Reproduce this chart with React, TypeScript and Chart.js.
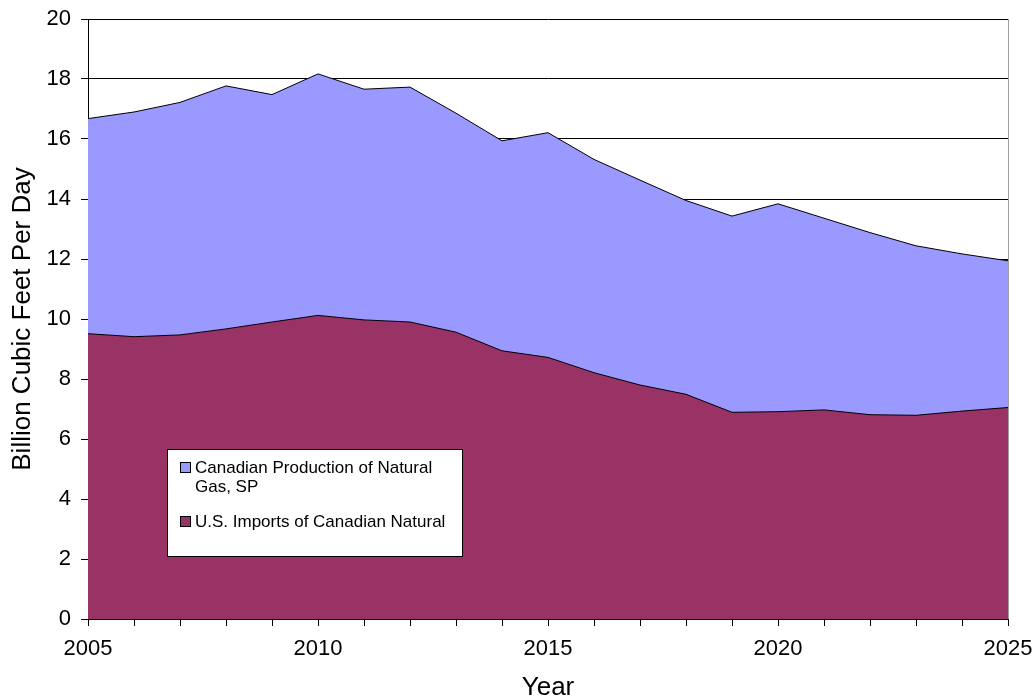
import React, { useEffect, useRef } from "react";
import { Chart, registerables } from "chart.js";

Chart.register(...registerables);

const years: number[] = [
  2005, 2006, 2007, 2008, 2009, 2010, 2011, 2012, 2013, 2014, 2015,
  2016, 2017, 2018, 2019, 2020, 2021, 2022, 2023, 2024, 2025,
];

const canadianProduction: number[] = [
  16.68, 16.9, 17.22, 17.77, 17.48, 18.17, 17.66, 17.73, 16.86, 15.94, 16.21,
  15.32, 14.63, 13.95, 13.43, 13.84, 13.36, 12.88, 12.44, 12.17, 11.94,
];

const usImports: number[] = [
  9.51, 9.41, 9.47, 9.67, 9.9, 10.12, 9.97, 9.9, 9.56, 8.94, 8.72,
  8.21, 7.8, 7.49, 6.89, 6.91, 6.97, 6.81, 6.79, 6.93, 7.05,
];

const legendLabels: string[][] = [
  ["Canadian Production of Natural", "Gas, SP"],
  ["U.S. Imports of Canadian Natural"],
];

const BLUE = "#9999FF";
const MAROON = "#993366";
const FONT = "'Liberation Sans', Arial, sans-serif";

const legendPlugin = {
  id: "boxLegend",
  afterDatasetsDraw(chart: any) {
    const ctx = chart.ctx as CanvasRenderingContext2D;
    ctx.save();
    // right frame of plot area
    const a = chart.chartArea;
    ctx.strokeStyle = "#a0a0a0";
    ctx.lineWidth = 1;
    ctx.beginPath();
    ctx.moveTo(Math.round(a.right) + 0.5, a.top);
    ctx.lineTo(Math.round(a.right) + 0.5, a.bottom);
    ctx.stroke();

    const bx = 167.5, by = 449.5, bw = 295, bh = 107;
    ctx.fillStyle = "#ffffff";
    ctx.fillRect(bx, by, bw, bh);
    ctx.strokeStyle = "#000000";
    ctx.strokeRect(bx, by, bw, bh);
    const colors = [BLUE, MAROON];
    const rowsY = [473, 527];
    ctx.font = `17px ${FONT}`;
    ctx.textBaseline = "alphabetic";
    legendLabels.forEach((lines, i) => {
      const baseY = rowsY[i];
      ctx.fillStyle = colors[i];
      ctx.fillRect(180, baseY - 11, 11, 11);
      ctx.strokeStyle = "#000";
      ctx.strokeRect(180.5, baseY - 10.5, 10, 10);
      ctx.fillStyle = "#000";
      lines.forEach((t, j) => {
        ctx.fillText(t, 195, baseY + j * 18.5);
      });
    });
    ctx.restore();
  },
};

export default function App() {
  const ref = useRef<HTMLCanvasElement | null>(null);

  useEffect(() => {
    if (!ref.current) return;
    const chart = new Chart(ref.current, {
      type: "line",
      data: {
        labels: years.map(String),
        datasets: [
          {
            label: "U.S. Imports of Canadian Natural",
            data: usImports,
            backgroundColor: MAROON,
            borderColor: "#000000",
            borderWidth: 1,
            fill: "origin",
            pointRadius: 0,
            tension: 0,
          },
          {
            label: "Canadian Production of Natural Gas, SP",
            data: canadianProduction,
            backgroundColor: BLUE,
            borderColor: "#000000",
            borderWidth: 1,
            fill: "origin",
            pointRadius: 0,
            tension: 0,
          },
        ],
      },
      options: {
        responsive: false,
        animation: false,
        layout: { padding: { top: 19, right: 26, left: 0, bottom: 0 } },
        plugins: {
          legend: { display: false },
          tooltip: { enabled: false },
        },
        scales: {
          x: {
            type: "category",
            offset: false,
            afterFit: (s: any) => {
              s.height = 80;
              s.paddingLeft = 0;
              s.paddingRight = 0;
              s.paddingTop = 0;
              s.paddingBottom = 0;
            },
            border: { display: true, color: "#000000", width: 1 },
            grid: {
              display: true,
              drawOnChartArea: false,
              drawTicks: true,
              tickLength: 7,
              color: "#000000",
            },
            ticks: {
              autoSkip: false,
              maxRotation: 0,
              minRotation: 0,
              padding: 10,
              color: "#000000",
              font: { family: FONT, size: 22 },
              callback: (_v: any, i: number) =>
                years[i] % 5 === 0 ? String(years[i]) : "",
            },
            title: {
              display: true,
              text: "Year",
              color: "#000000",
              font: { family: FONT, size: 26, lineHeight: 0.85 },
              padding: { top: 0, bottom: 0 },
            },
          },
          y: {
            min: 0,
            max: 20,
            afterFit: (s: any) => {
              s.width = 88;
              s.paddingLeft = 0;
              s.paddingRight = 0;
              s.paddingTop = 0;
              s.paddingBottom = 0;
            },
            border: { display: true, color: "#000000", width: 1 },
            grid: {
              color: "#000000",
              tickLength: 7,
            },
            ticks: {
              stepSize: 2,
              padding: 10,
              color: "#000000",
              font: { family: FONT, size: 22 },
            },
            title: {
              display: true,
              text: "Billion Cubic Feet Per Day",
              color: "#000000",
              font: { family: FONT, size: 26 },
              padding: { top: 7, bottom: 0 },
            },
          },
        },
      },
      plugins: [legendPlugin],
    });
    return () => chart.destroy();
  }, []);

  return (
    <div style={{ position: "fixed", left: 0, top: 0, width: 1034, height: 699 }}>
      <canvas ref={ref} width={1034} height={699} style={{ display: "block" }} />
    </div>
  );
}
